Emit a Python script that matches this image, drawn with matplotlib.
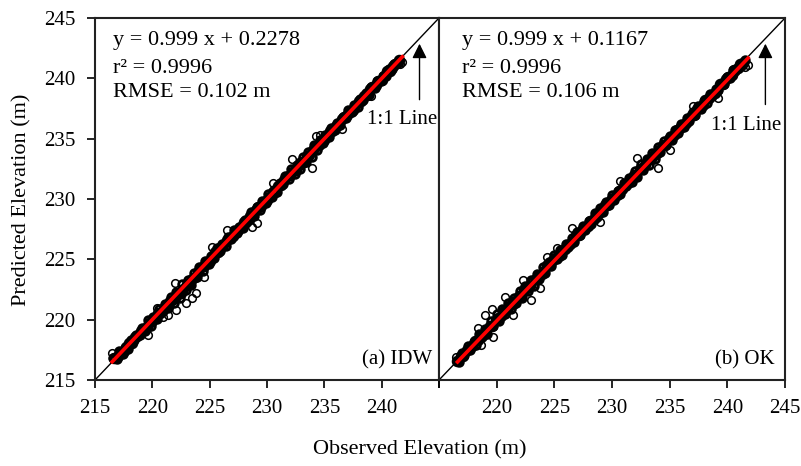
import numpy as np
import matplotlib.pyplot as plt

plt.rcParams['font.family'] = ['Liberation Serif', 'DejaVu Serif']

# IDW: observed vs predicted elevation (m), dense core of the cloud
idw_core_obs = [216.7, 217.0, 217.2, 217.5, 217.7, 218.0, 218.2, 218.5, 218.7, 219.0,
                219.2, 219.5, 219.7, 220.0, 220.2, 220.5, 220.7, 221.0, 221.2, 221.5,
                221.7, 222.0, 222.2, 222.5, 222.7, 223.0, 223.2, 223.5, 223.7, 224.0,
                224.2, 224.5, 224.7, 225.0, 225.2, 225.5, 225.7, 226.0, 226.2, 226.5,
                226.7, 227.0, 227.2, 227.5, 227.7, 228.0, 228.2, 228.5, 228.7, 229.0,
                229.2, 229.5, 229.7, 230.0, 230.2, 230.5, 230.7, 231.0, 231.2, 231.5,
                231.7, 232.0, 232.2, 232.5, 232.7, 233.0, 233.2, 233.5, 233.7, 234.0,
                234.2, 234.5, 234.7, 235.0, 235.2, 235.5, 235.7, 236.0, 236.2, 236.5,
                236.7, 237.0, 237.2, 237.5, 237.7, 238.0, 238.2, 238.5, 238.7, 239.0,
                239.2, 239.5, 239.7, 240.0, 240.2, 240.5, 240.7, 241.0, 241.2, 241.5]
idw_core_pred = [216.8, 216.95, 217.25, 217.4, 217.7, 218.1, 218.1, 218.55, 218.65, 219.1,
                 219.25, 219.4, 219.7, 219.85, 220.15, 220.55, 220.55, 221.0, 221.1, 221.55,
                 221.65, 221.8, 222.1, 222.25, 222.55, 222.95, 222.95, 223.4, 223.5, 223.95,
                 224.3, 224.45, 224.75, 224.9, 225.2, 225.6, 225.6, 226.05, 226.15, 226.6,
                 226.8, 226.95, 227.25, 227.4, 227.7, 228.1, 228.1, 228.55, 228.65, 229.1,
                 229.3, 229.45, 229.75, 229.9, 230.2, 230.6, 230.6, 231.05, 231.15, 231.6,
                 231.8, 231.95, 232.25, 232.4, 232.7, 233.1, 233.1, 233.55, 233.65, 234.1,
                 234.3, 234.45, 234.75, 234.9, 235.2, 235.6, 235.6, 236.05, 236.15, 236.6,
                 236.8, 236.95, 237.25, 237.4, 237.7, 238.1, 238.1, 238.55, 238.65, 239.1,
                 239.3, 239.45, 239.75, 239.9, 240.2, 240.6, 240.6, 241.05, 241.15, 241.5]
# IDW: fringe of the band
idw_obs = [216.6, 216.9, 217.1, 217.4, 217.6, 217.9, 218.1, 218.4, 218.6, 218.9,
           219.1, 219.4, 219.6, 219.9, 220.1, 220.4, 220.6, 220.9, 221.1, 221.4,
           221.6, 221.9, 222.1, 222.4, 222.6, 222.9, 223.1, 223.4, 223.6, 223.9,
           224.1, 224.4, 224.6, 224.9, 225.1, 225.4, 225.6, 225.9, 226.1, 226.4,
           226.6, 226.9, 227.1, 227.4, 227.6, 227.9, 228.1, 228.4, 228.6, 228.9,
           229.1, 229.4, 229.6, 229.9, 230.1, 230.4, 230.6, 230.9, 231.1, 231.4,
           231.6, 231.9, 232.1, 232.4, 232.6, 232.9, 233.1, 233.4, 233.6, 233.9,
           234.1, 234.4, 234.6, 234.9, 235.1, 235.4, 235.6, 235.9, 236.1, 236.4,
           236.6, 236.9, 237.1, 237.4, 237.6, 237.9, 238.1, 238.4, 238.6, 238.9,
           239.1, 239.4, 239.6, 239.9, 240.1, 240.4, 240.6, 240.9, 241.1, 241.4]
idw_pred = [216.8, 216.75, 217.4, 217.15, 217.65, 217.6, 218.35, 218.3, 218.75, 218.7,
            219.35, 219.1, 219.95, 219.5, 220.2, 220.05, 220.9, 220.7, 221.3, 220.95,
            221.9, 221.4, 222.3, 221.8, 222.95, 222.45, 223.25, 222.85, 223.85, 223.5,
            224.4, 224.05, 224.85, 224.6, 225.3, 225.15, 225.9, 225.7, 226.25, 226.1,
            226.85, 226.7, 227.4, 227.15, 227.7, 227.6, 228.3, 228.25, 228.9, 228.55,
            229.3, 229.1, 229.85, 229.7, 230.4, 230.15, 230.75, 230.6, 231.3, 231.25,
            231.9, 231.65, 232.45, 232.1, 232.8, 232.5, 233.5, 233.05, 233.9, 233.45,
            234.45, 234.1, 234.9, 234.65, 235.3, 235.1, 235.85, 235.7, 236.3, 236.15,
            236.8, 236.7, 237.35, 237.25, 237.75, 237.65, 238.3, 238.2, 238.75, 238.6,
            239.25, 239.2, 239.8, 239.75, 240.2, 240.2, 240.75, 240.8, 241.15, 241.3]
# IDW: scattered points away from the band
idw_out_obs = [216.5, 219.6, 220.4, 220.9, 221.4, 222.0, 222.1, 222.9, 223.45, 223.8, 224.5, 225.2,
               226.5, 228.7, 229.1, 230.5, 232.2, 233.9, 234.3, 234.6, 236.5, 239.1, 241.6, 241.8]
idw_out_pred = [217.2, 218.7, 221.0, 220.2, 220.4, 223.0, 220.8, 221.4, 221.8, 222.2, 223.5, 226.0,
                227.4, 227.7, 228.0, 231.3, 233.3, 232.6, 235.2, 235.3, 235.8, 238.5, 241.2, 241.35]

# OK: dense core of the cloud
ok_core_obs = [216.6, 216.9, 217.1, 217.4, 217.6, 217.9, 218.1, 218.4, 218.6, 218.9,
               219.1, 219.4, 219.6, 219.9, 220.1, 220.4, 220.6, 220.9, 221.1, 221.4,
               221.6, 221.9, 222.1, 222.4, 222.6, 222.9, 223.1, 223.4, 223.6, 223.9,
               224.1, 224.4, 224.6, 224.9, 225.1, 225.4, 225.6, 225.9, 226.1, 226.4,
               226.6, 226.9, 227.1, 227.4, 227.6, 227.9, 228.1, 228.4, 228.6, 228.9,
               229.1, 229.4, 229.6, 229.9, 230.1, 230.4, 230.6, 230.9, 231.1, 231.4,
               231.6, 231.9, 232.1, 232.4, 232.6, 232.9, 233.1, 233.4, 233.6, 233.9,
               234.1, 234.4, 234.6, 234.9, 235.1, 235.4, 235.6, 235.9, 236.1, 236.4,
               236.6, 236.9, 237.1, 237.4, 237.6, 237.9, 238.1, 238.4, 238.6, 238.9,
               239.1, 239.4, 239.6, 239.9, 240.1, 240.4, 240.6, 240.9, 241.1, 241.4]
ok_core_pred = [216.55, 217.0, 217.0, 217.45, 217.6, 217.8, 218.2, 218.35, 218.65, 218.8,
                219.05, 219.5, 219.5, 219.95, 220.1, 220.3, 220.7, 220.85, 221.15, 221.3,
                221.55, 222.0, 222.0, 222.45, 222.6, 222.8, 223.2, 223.35, 223.65, 223.8,
                224.05, 224.5, 224.5, 224.95, 225.1, 225.3, 225.7, 225.85, 226.15, 226.3,
                226.55, 227.0, 227.0, 227.45, 227.6, 227.8, 228.2, 228.35, 228.65, 228.8,
                229.05, 229.5, 229.5, 229.95, 230.1, 230.3, 230.7, 230.85, 231.15, 231.3,
                231.55, 232.0, 232.0, 232.45, 232.6, 232.8, 233.2, 233.35, 233.65, 233.8,
                234.05, 234.5, 234.5, 234.95, 235.1, 235.3, 235.7, 235.85, 236.15, 236.3,
                236.55, 237.0, 237.0, 237.45, 237.6, 237.8, 238.2, 238.35, 238.65, 238.8,
                239.05, 239.5, 239.5, 239.95, 240.1, 240.3, 240.7, 240.85, 241.15, 241.3]
# OK: fringe of the band
ok_obs = [216.7, 217.0, 217.2, 217.5, 217.7, 218.0, 218.2, 218.5, 218.7, 219.0,
          219.2, 219.5, 219.7, 220.0, 220.2, 220.5, 220.7, 221.0, 221.2, 221.5,
          221.7, 222.0, 222.2, 222.5, 222.7, 223.0, 223.2, 223.5, 223.7, 224.0,
          224.2, 224.5, 224.7, 225.0, 225.2, 225.5, 225.7, 226.0, 226.2, 226.5,
          226.7, 227.0, 227.2, 227.5, 227.7, 228.0, 228.2, 228.5, 228.7, 229.0,
          229.2, 229.5, 229.7, 230.0, 230.2, 230.5, 230.7, 231.0, 231.2, 231.5,
          231.7, 232.0, 232.2, 232.5, 232.7, 233.0, 233.2, 233.5, 233.7, 234.0,
          234.2, 234.5, 234.7, 235.0, 235.2, 235.5, 235.7, 236.0, 236.2, 236.5,
          236.7, 237.0, 237.2, 237.5, 237.7, 238.0, 238.2, 238.5, 238.7, 239.0,
          239.2, 239.5, 239.7, 240.0, 240.2, 240.5, 240.7, 241.0, 241.2, 241.5]
ok_pred = [216.5, 217.25, 217.1, 217.8, 217.45, 218.15, 217.9, 218.85, 218.55, 219.2,
           218.85, 219.9, 219.45, 220.45, 219.9, 220.85, 220.5, 221.4, 220.85, 221.8,
           221.4, 222.35, 221.8, 222.8, 222.35, 223.25, 222.75, 223.8, 223.4, 224.35,
           223.9, 224.8, 224.45, 225.35, 225.0, 225.8, 225.4, 226.25, 226.0, 226.8,
           226.45, 227.3, 227.0, 227.75, 227.4, 228.2, 227.95, 228.8, 228.5, 229.25,
           228.9, 229.75, 229.5, 230.35, 229.95, 230.7, 230.4, 231.3, 231.05, 231.75,
           231.4, 232.35, 231.85, 232.9, 232.4, 233.35, 232.8, 233.8, 233.35, 234.3,
           233.9, 234.8, 234.45, 235.25, 234.9, 235.7, 235.45, 236.2, 236.0, 236.75,
           236.5, 237.2, 236.95, 237.7, 237.5, 238.15, 237.95, 238.7, 238.55, 239.15,
           239.0, 239.65, 239.55, 240.1, 240.0, 240.65, 240.6, 241.05, 241.05, 241.55]
# OK: scattered points away from the band
ok_out_obs = [216.5, 218.4, 218.6, 219.0, 219.6, 219.7, 220.7, 221.4, 222.3, 223.0, 223.8, 224.4,
              225.2, 226.5, 229.0, 230.7, 232.2, 234.0, 235.0, 237.0, 239.2, 241.5, 241.8]
ok_out_pred = [216.9, 219.3, 217.9, 220.4, 220.9, 218.6, 221.9, 220.4, 223.3, 221.6, 222.6, 225.2,
               225.9, 227.6, 228.1, 231.5, 233.4, 232.6, 234.1, 237.7, 238.4, 240.9, 241.1]

# regression fits and stats
slopes = [0.999, 0.999]
intercepts = [0.2278, 0.1167]
r2 = ['0.9996', '0.9996']
rmse = ['0.102', '0.106']
fit_range = [(216.5, 241.8), (216.6, 241.8)]
panel_names = ['(a) IDW', '(b) OK']

fig = plt.figure(figsize=(8.01, 4.66), dpi=100)
ax1 = fig.add_axes([95 / 801, 86 / 466, 344 / 801, 362 / 466])
ax2 = fig.add_axes([439 / 801, 86 / 466, 346 / 801, 362 / 466])

datasets = [(idw_core_obs, idw_core_pred, idw_obs, idw_pred, idw_out_obs, idw_out_pred),
            (ok_core_obs, ok_core_pred, ok_obs, ok_pred, ok_out_obs, ok_out_pred)]

for i, ax in enumerate([ax1, ax2]):
    core_obs, core_pred, obs, pred, out_obs, out_pred = datasets[i]

    # 1:1 line
    ax.plot([215, 245], [215, 245], color='black', lw=1, zorder=1)

    # heavy edges on the core so it reads as a solid band, like the original
    ax.plot(core_obs, core_pred, 'o', mfc='none', mec='black', ms=5.5, mew=2.8, zorder=2)
    ax.plot(obs, pred, 'o', mfc='none', mec='black', ms=5.5, mew=2.0, zorder=2)
    ax.plot(out_obs, out_pred, 'o', mfc='none', mec='black', ms=5.5, mew=1.1, zorder=2)

    # regression line
    xs = np.array(fit_range[i])
    ax.plot(xs, slopes[i] * xs + intercepts[i], color='#ff0000', lw=2.6, zorder=3)

    ax.set_xlim(215, 245)
    ax.set_ylim(215, 245)

    tx = 216.55 if i == 0 else 217.0
    ax.text(tx, 243.15, f'y = {slopes[i]} x + {intercepts[i]}', fontsize=16, va='center')
    ax.text(tx, 240.85, f'r\u00b2 = {r2[i]}', fontsize=16, va='center')
    ax.text(tx, 238.8, f'RMSE = {rmse[i]} m', fontsize=16, va='center')

    ax.annotate('', xy=(243.3, 243.1), xytext=(243.3, 238.0 if i == 0 else 237.6),
                arrowprops=dict(arrowstyle='-|>', color='black', lw=1, mutation_scale=22))
    ax.text(241.8 if i == 0 else 241.6, 236.6 if i == 0 else 236.1, '1:1 Line',
            fontsize=15, ha='center', va='center')

    ax.text(244.4 if i == 0 else 244.1, 216.7, panel_names[i], fontsize=15, ha='right', va='center')

    for sp in ax.spines.values():
        sp.set_linewidth(1.5)
        sp.set_color('#222222')
    ax.tick_params(direction='out', length=6, width=1.2, labelsize=15, pad=8,
                   top=False, right=False)

ax1.set_xticks([215, 220, 225, 230, 235, 240, 245])
ax1.set_xticklabels(['215', '220', '225', '230', '235', '240', ''])
ax1.set_yticks([215, 220, 225, 230, 235, 240, 245])
ax2.set_xticks([215, 220, 225, 230, 235, 240, 245])
ax2.set_xticklabels(['', '220', '225', '230', '235', '240', '245'])
ax2.set_yticks([])

fig.text(22 / 801, 1 - 200 / 466, 'Predicted Elevation (m)', rotation=90,
         fontsize=16, ha='center', va='center')
fig.text(420 / 801, 1 - 450 / 466, 'Observed Elevation (m)', fontsize=16,
         ha='center', va='center')

plt.savefig('out.png', dpi=100)
